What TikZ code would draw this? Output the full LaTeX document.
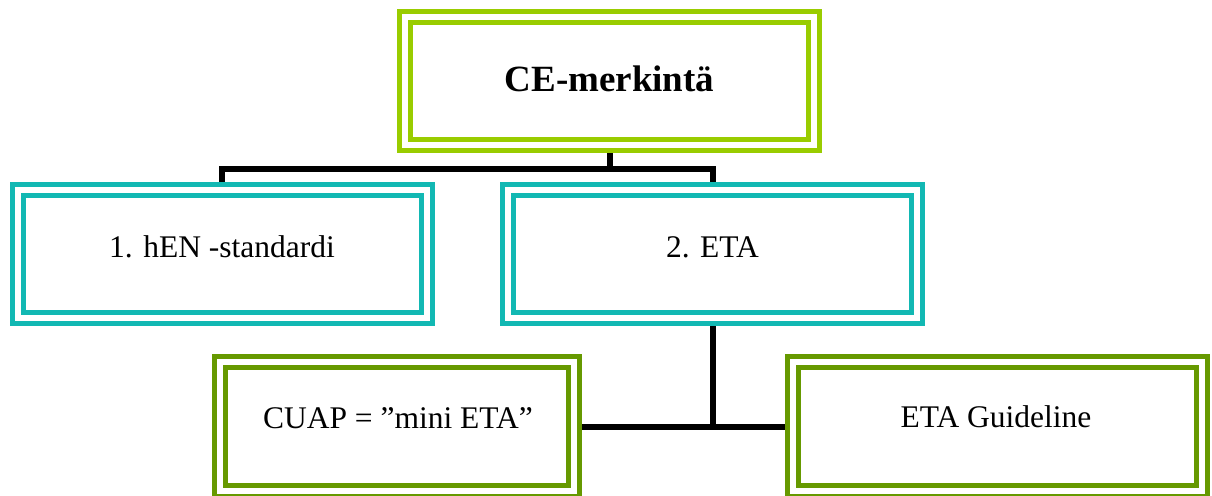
\documentclass[tikz,border=0pt]{standalone}
\usepackage{fontspec}
\setmainfont{Liberation Serif}
\definecolor{lime}{HTML}{99CC00}
\definecolor{tealbox}{HTML}{12B8B3}
\definecolor{olive}{HTML}{669900}
\begin{document}
\begin{tikzpicture}[x=1pt,y=-1pt,
  dbox/.style={draw=#1, double=white, line width=5pt, double distance=6pt,
    rectangle, minimum width=409pt, minimum height=128pt, outer sep=8pt, inner sep=0pt},
  lbl/.style={inner sep=0pt, font=\fontsize{31.5}{36}\selectfont},
  conn/.style={draw=black, line width=6pt, line join=miter}]
\useasboundingbox (0,0) rectangle (1212,495);
\fill[white] (0,0) rectangle (1212,495);
% boxes
\node[dbox=lime] (top) at (609.5,81) {};
\node[dbox=tealbox] (b1) at (222,254) {};
\node[dbox=tealbox] (b2) at (712.5,254) {};
\node[dbox=olive, minimum width=354pt, minimum height=129pt] (c1) at (397,426.5) {};
\node[dbox=olive, minimum height=129pt] (c2) at (997.5,426.5) {};
% texts
\node[inner sep=0pt, font=\fontsize{37}{42}\selectfont\bfseries] (ttop) at (609.5,79) {CE-merkintä};
\node[lbl] (tb1) at (222,247) {1. hEN -standardi};
\node[lbl] (tb2) at (712.5,247) {2. ETA};
\node[lbl] (tc1) at (398,418) {CUAP = ”mini ETA”};
\node[lbl] (tc2) at (996,417) {ETA Guideline};
% connectors
\coordinate (j1) at (609.5,168.5);
\draw[conn] (top.south) -- (j1);
\draw[conn] (b1.north) -- (b1.north |- j1) -- (b2.north |- j1) -- (b2.north);
\draw[conn] (b2.south) -- (b2.south |- c1.east);
\draw[conn] (c1.east) -- (c2.west);
\end{tikzpicture}
\end{document}
